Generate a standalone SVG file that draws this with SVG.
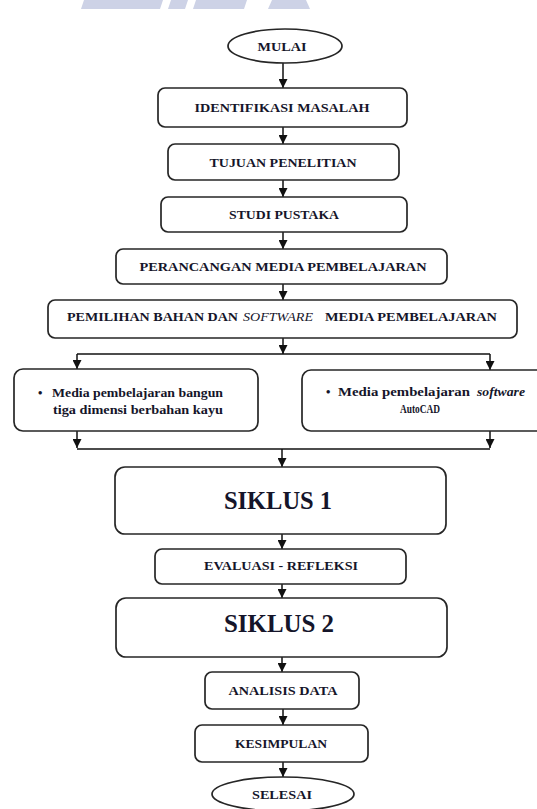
<svg xmlns="http://www.w3.org/2000/svg" width="537" height="809" viewBox="0 0 537 809">
<style>
  .box { fill: #ffffff; stroke: #262626; stroke-width: 1.7; }
  .lbl { font-family: "Liberation Serif", "Times New Roman", serif; font-weight: bold; font-size: 13px; fill: #15152a; text-anchor: middle; }
  .big { font-family: "Liberation Serif", "Times New Roman", serif; font-weight: bold; font-size: 26px; fill: #15152a; text-anchor: middle; }
  .txt { font-family: "Liberation Serif", "Times New Roman", serif; font-weight: bold; font-size: 12.5px; fill: #15152a; }
  .conn { stroke: #111; stroke-width: 1.5; fill: none; }
  .wm { fill: #cdd2e6; }
</style>
<defs>
  <marker id="arr" viewBox="0 0 10 10" refX="10" refY="5" markerWidth="9" markerHeight="9" markerUnits="userSpaceOnUse" orient="auto">
    <path d="M0,0 L10,5 L0,10 z" fill="#111"/>
  </marker>
</defs>
<rect width="537" height="809" fill="#ffffff"/>
<g id="watermark">
  <polygon class="wm" points="84,0 163,0 160,9 81,9"/>
  <polygon class="wm" points="171,0 188,0 185,9 168,9"/>
  <polygon class="wm" points="196,0 247,0 244,9 193,9"/>
  <polygon class="wm" points="272,0 306,0 310,9 268,9"/>
</g>
<g id="connectors">
  <line class="conn" x1="283" y1="63" x2="283" y2="88" marker-end="url(#arr)"/>
  <line class="conn" x1="283" y1="127" x2="283" y2="144" marker-end="url(#arr)"/>
  <line class="conn" x1="283" y1="180" x2="283" y2="197" marker-end="url(#arr)"/>
  <line class="conn" x1="283" y1="232" x2="283" y2="249" marker-end="url(#arr)"/>
  <line class="conn" x1="283" y1="284" x2="283" y2="300" marker-end="url(#arr)"/>
  <line class="conn" x1="283" y1="338" x2="283" y2="354" marker-end="url(#arr)"/>
  <line class="conn" x1="77" y1="354" x2="490" y2="354"/>
  <line class="conn" x1="77" y1="354" x2="77" y2="369" marker-end="url(#arr)"/>
  <line class="conn" x1="490" y1="354" x2="490" y2="370" marker-end="url(#arr)"/>
  <line class="conn" x1="77" y1="431" x2="77" y2="448" marker-end="url(#arr)"/>
  <line class="conn" x1="490" y1="431" x2="490" y2="448" marker-end="url(#arr)"/>
  <line class="conn" x1="77" y1="449" x2="490" y2="449"/>
  <line class="conn" x1="282" y1="449" x2="282" y2="467" marker-end="url(#arr)"/>
  <line class="conn" x1="282" y1="534" x2="282" y2="549" marker-end="url(#arr)"/>
  <line class="conn" x1="282" y1="584" x2="282" y2="598" marker-end="url(#arr)"/>
  <line class="conn" x1="282" y1="657" x2="282" y2="672" marker-end="url(#arr)"/>
  <line class="conn" x1="283" y1="709" x2="283" y2="725" marker-end="url(#arr)"/>
  <line class="conn" x1="283" y1="762" x2="283" y2="777" marker-end="url(#arr)"/>
</g>
<g id="mulai">
  <ellipse class="box" cx="285" cy="46" rx="57" ry="17"/>
  <text class="lbl" x="282" y="50.5" font-size="12" textLength="49" lengthAdjust="spacingAndGlyphs">MULAI</text>
</g>
<g id="identifikasi">
  <rect class="box" x="158" y="88" width="249" height="39" rx="7"/>
  <text class="lbl" x="282" y="112" textLength="175" lengthAdjust="spacingAndGlyphs">IDENTIFIKASI MASALAH</text>
</g>
<g id="tujuan">
  <rect class="box" x="168" y="144" width="231" height="36" rx="7"/>
  <text class="lbl" x="283" y="166.5" textLength="147" lengthAdjust="spacingAndGlyphs">TUJUAN PENELITIAN</text>
</g>
<g id="studi">
  <rect class="box" x="161" y="197" width="246" height="35" rx="7"/>
  <text class="lbl" x="284" y="219" textLength="110" lengthAdjust="spacingAndGlyphs">STUDI PUSTAKA</text>
</g>
<g id="perancangan">
  <rect class="box" x="116" y="249" width="331" height="35" rx="7"/>
  <text class="lbl" x="283" y="271" textLength="287" lengthAdjust="spacingAndGlyphs">PERANCANGAN  MEDIA PEMBELAJARAN</text>
</g>
<g id="pemilihan">
  <rect class="box" x="48" y="300" width="469" height="38" rx="7"/>
  <text class="lbl" x="67" y="321" style="text-anchor:start" textLength="171" lengthAdjust="spacingAndGlyphs">PEMILIHAN BAHAN DAN</text>
  <text class="lbl" x="243" y="321" style="text-anchor:start;font-style:italic;font-weight:normal" textLength="70" lengthAdjust="spacingAndGlyphs">SOFTWARE</text>
  <text class="lbl" x="325" y="321" style="text-anchor:start" textLength="172" lengthAdjust="spacingAndGlyphs">MEDIA PEMBELAJARAN</text>
</g>
<g id="media-kayu">
  <rect class="box" x="14" y="369" width="244" height="62" rx="9"/>
  <text class="txt" x="38" y="397">•</text>
  <text class="txt" x="52" y="397" textLength="171" lengthAdjust="spacingAndGlyphs">Media pembelajaran bangun</text>
  <text class="txt" x="53" y="414" textLength="170" lengthAdjust="spacingAndGlyphs">tiga dimensi berbahan kayu</text>
</g>
<g id="media-autocad">
  <rect class="box" x="302" y="370" width="260" height="61" rx="9"/>
  <text class="txt" x="326" y="396">•</text>
  <text class="txt" x="338" y="396" textLength="132" lengthAdjust="spacingAndGlyphs">Media pembelajaran</text>
  <text class="txt" x="477" y="396" font-style="italic" textLength="48" lengthAdjust="spacingAndGlyphs">software</text>
  <text class="txt" x="420" y="413" text-anchor="middle" textLength="40" lengthAdjust="spacingAndGlyphs">AutoCAD</text>
</g>
<g id="siklus1">
  <rect class="box" x="115" y="467" width="331" height="67" rx="10"/>
  <text class="big" x="278" y="509" textLength="108" lengthAdjust="spacingAndGlyphs">SIKLUS 1</text>
</g>
<g id="evaluasi">
  <rect class="box" x="155" y="549" width="251" height="35" rx="7"/>
  <text class="lbl" x="281" y="570" font-size="11.5" textLength="154" lengthAdjust="spacingAndGlyphs">EVALUASI - REFLEKSI</text>
</g>
<g id="siklus2">
  <rect class="box" x="116" y="598" width="331" height="59" rx="10"/>
  <text class="big" x="279" y="632" textLength="110" lengthAdjust="spacingAndGlyphs">SIKLUS 2</text>
</g>
<g id="analisis">
  <rect class="box" x="205" y="672" width="154" height="37" rx="7"/>
  <text class="lbl" x="283" y="694.5" textLength="109" lengthAdjust="spacingAndGlyphs">ANALISIS DATA</text>
</g>
<g id="kesimpulan">
  <rect class="box" x="195" y="725" width="173" height="37" rx="7"/>
  <text class="lbl" x="281" y="747.5" textLength="92" lengthAdjust="spacingAndGlyphs">KESIMPULAN</text>
</g>
<g id="selesai">
  <ellipse class="box" cx="283" cy="794" rx="71" ry="17"/>
  <text class="lbl" x="282" y="799" font-size="12" textLength="60" lengthAdjust="spacingAndGlyphs">SELESAI</text>
</g>
</svg>
